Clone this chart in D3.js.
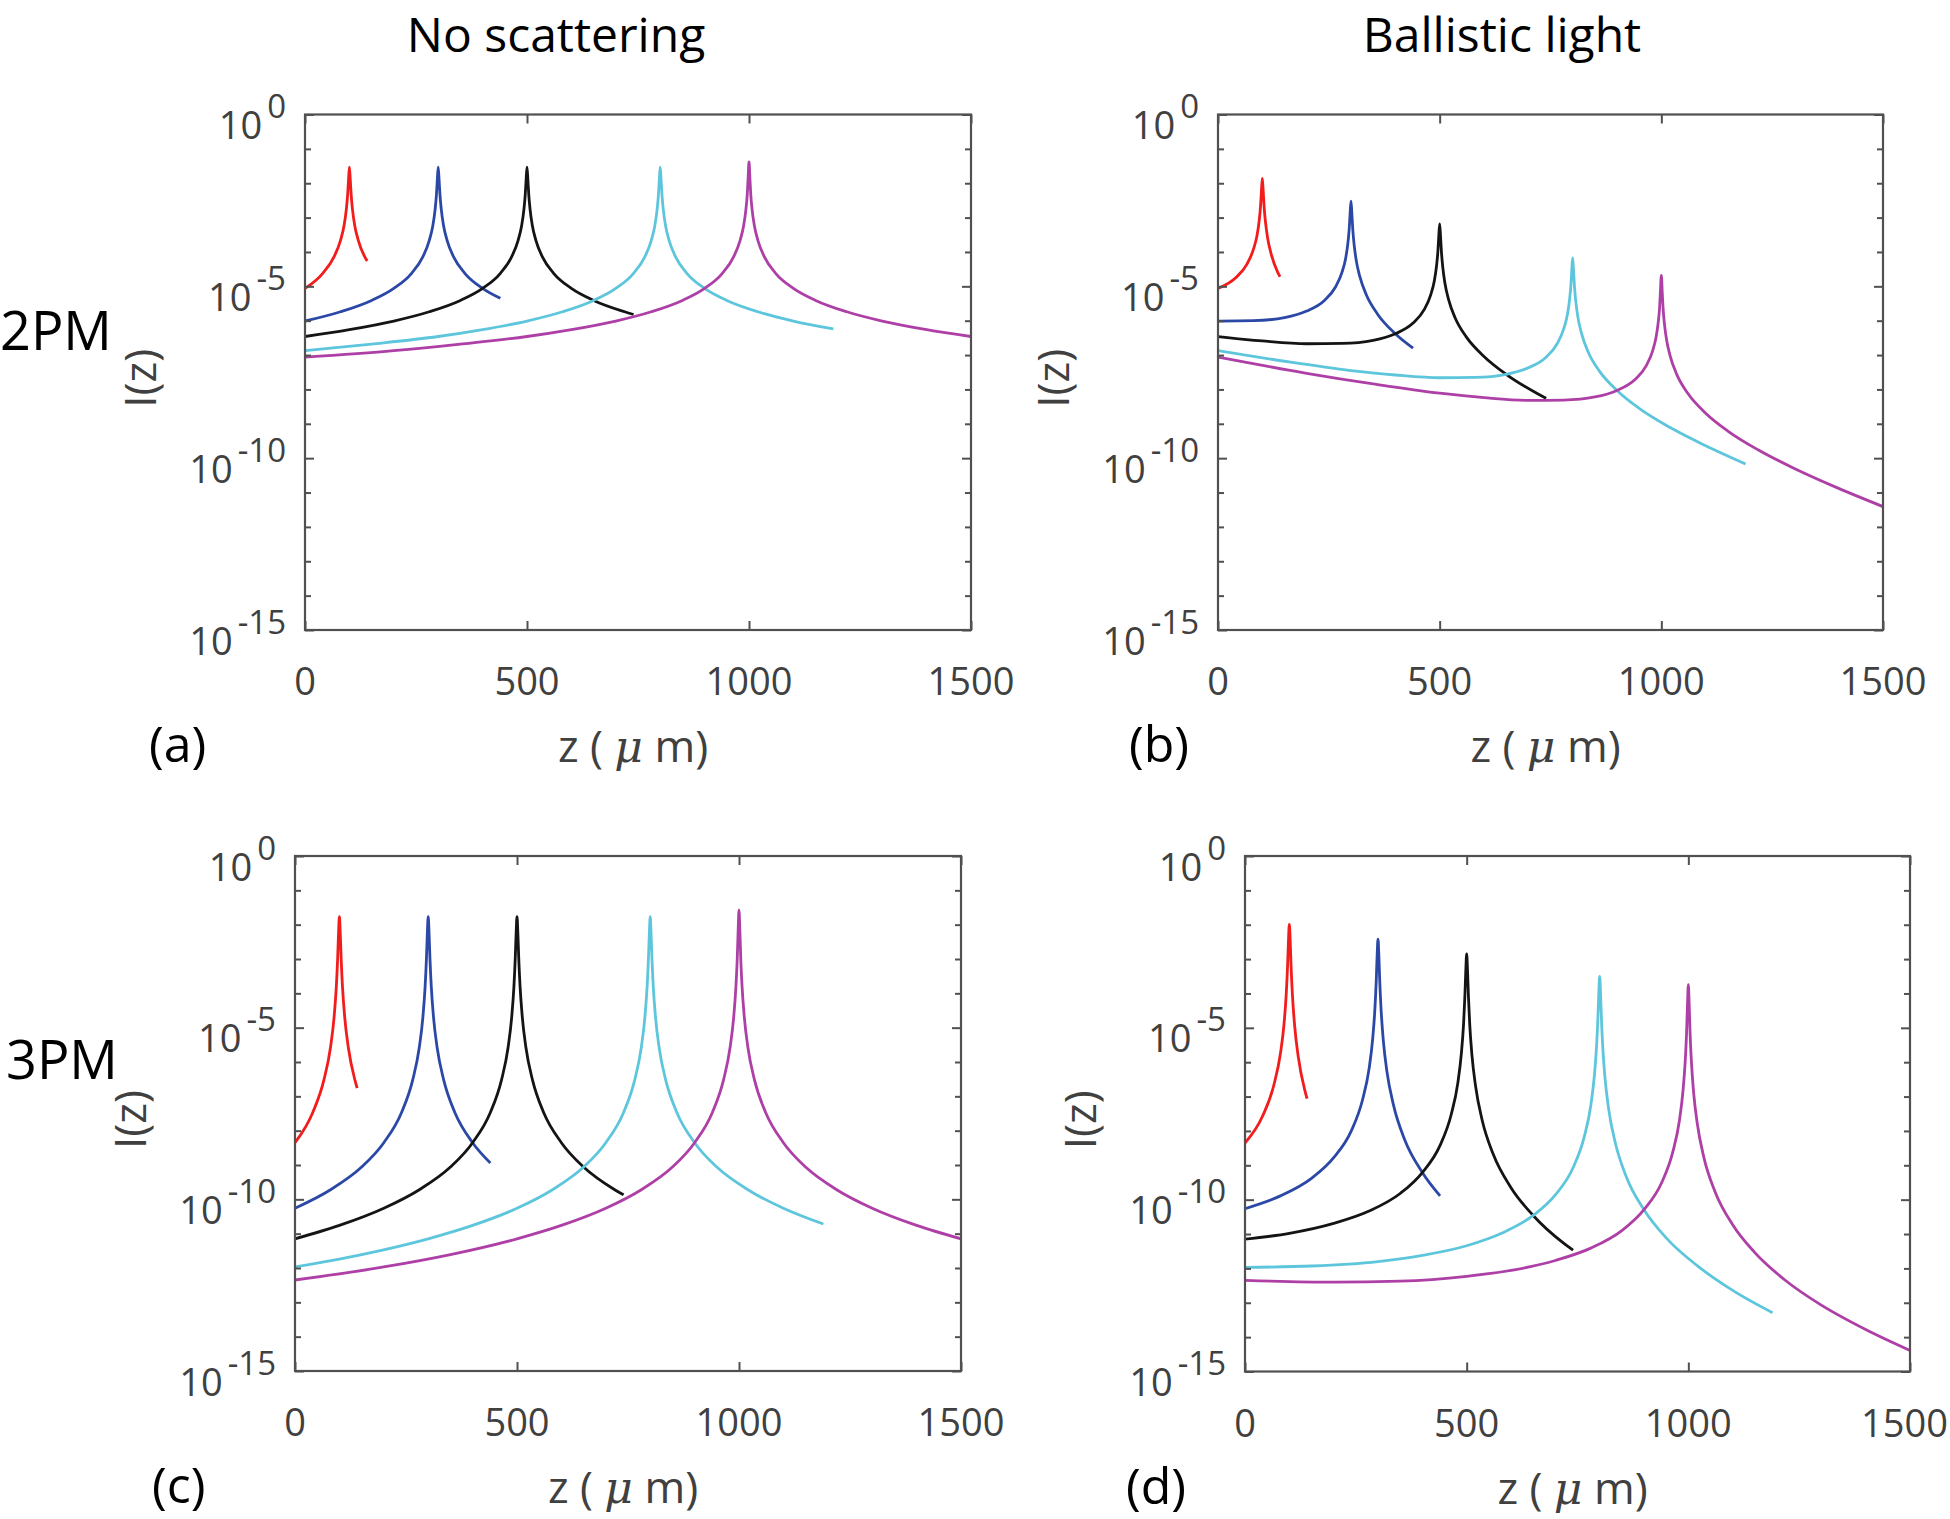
<!DOCTYPE html>
<html><head><meta charset="utf-8">
<script src="https://cdn.jsdelivr.net/npm/d3@7"></script>
<style>
html,body{margin:0;padding:0;background:#fff;}
svg{display:block;font-family:"Open Sans",sans-serif;}
</style></head><body>
<svg id="fig" width="1950" height="1519"></svg>
<script>
// ---------------- DATA (values are log10 I(z)) ----------------
// depth samples (µm) for each focal depth curve: focus at 100, 300, 500, 800, 1000 µm
const zRed     = [0, 40, 65, 80, 88, 93, 96, 98, 100, 102, 104, 107, 112, 120, 135, 140];
const zBlue    = [0, 80, 150, 200, 240, 265, 280, 288, 293, 296, 298, 300, 302, 304, 307, 312, 320, 335, 360, 400, 440];
const zBlack   = [0, 100, 200, 280, 350, 400, 440, 465, 480, 488, 493, 496, 498, 500, 502, 504, 507, 512, 520, 535, 560, 600, 650, 720, 740];
const zCyan    = [0, 150, 300, 400, 500, 580, 650, 700, 740, 765, 780, 788, 793, 796, 798, 800, 802, 804, 807, 812, 820, 835, 860, 900, 950, 1020, 1100, 1190];
const zMagenta = [0, 200, 350, 500, 600, 700, 780, 850, 900, 940, 965, 980, 988, 993, 996, 998, 1000, 1002, 1004, 1007, 1012, 1020, 1035, 1060, 1100, 1150, 1220, 1300, 1400, 1500];

// (a) 2PM, no scattering
const a_red     = [-5.06, -4.62, -4.15, -3.66, -3.23, -2.77, -2.34, -1.90, -1.53, -1.90, -2.34, -2.77, -3.23, -3.66, -4.15, -4.26];
const a_blue    = [-6.01, -5.74, -5.41, -5.06, -4.62, -4.15, -3.66, -3.23, -2.77, -2.34, -1.90, -1.53, -1.90, -2.34, -2.77, -3.23, -3.66, -4.15, -4.62, -5.06, -5.35];
const a_black   = [-6.46, -6.26, -6.01, -5.74, -5.41, -5.06, -4.62, -4.15, -3.66, -3.23, -2.77, -2.34, -1.90, -1.53, -1.90, -2.34, -2.77, -3.23, -3.66, -4.15, -4.62, -5.06, -5.41, -5.74, -5.82];
const a_cyan    = [-6.87, -6.68, -6.46, -6.26, -6.01, -5.74, -5.41, -5.06, -4.62, -4.15, -3.66, -3.23, -2.77, -2.34, -1.90, -1.53, -1.90, -2.34, -2.77, -3.23, -3.66, -4.15, -4.62, -5.06, -5.41, -5.74, -6.01, -6.24];
const a_magenta = [-7.06, -6.87, -6.68, -6.46, -6.26, -6.01, -5.74, -5.41, -5.06, -4.62, -4.15, -3.66, -3.23, -2.77, -2.34, -1.85, -1.38, -1.85, -2.34, -2.77, -3.23, -3.66, -4.15, -4.62, -5.06, -5.41, -5.74, -6.01, -6.26, -6.46];

// (b) 2PM, ballistic light
const b_red     = [-5.06, -4.75, -4.36, -3.92, -3.52, -3.08, -2.66, -2.22, -1.86, -2.24, -2.68, -3.12, -3.60, -4.06, -4.60, -4.72];
const b_blue    = [-6.01, -6.00, -5.91, -5.72, -5.41, -5.02, -4.58, -4.18, -3.74, -3.32, -2.88, -2.52, -2.90, -3.34, -3.78, -4.26, -4.72, -5.26, -5.81, -6.38, -6.80];
const b_black   = [-6.46, -6.59, -6.67, -6.66, -6.57, -6.38, -6.07, -5.68, -5.24, -4.84, -4.40, -3.98, -3.54, -3.18, -3.56, -4.00, -4.44, -4.92, -5.38, -5.92, -6.47, -7.04, -7.56, -8.12, -8.26];
const b_cyan    = [-6.87, -7.18, -7.45, -7.58, -7.66, -7.65, -7.56, -7.37, -7.06, -6.67, -6.23, -5.83, -5.39, -4.97, -4.53, -4.17, -4.55, -4.99, -5.43, -5.91, -6.37, -6.91, -7.46, -8.03, -8.55, -9.11, -9.64, -10.17];
const b_magenta = [-7.06, -7.53, -7.84, -8.11, -8.24, -8.32, -8.31, -8.22, -8.03, -7.72, -7.33, -6.89, -6.49, -6.05, -5.63, -5.14, -4.68, -5.16, -5.65, -6.09, -6.57, -7.03, -7.57, -8.12, -8.69, -9.21, -9.77, -10.30, -10.88, -11.41];

// (c) 3PM, no scattering
const c_red     = [-8.35, -7.47, -6.53, -5.57, -4.70, -3.82, -3.00, -2.27, -1.77, -2.27, -3.00, -3.82, -4.70, -5.57, -6.53, -6.76];
const c_blue    = [-10.26, -9.72, -9.06, -8.35, -7.47, -6.53, -5.57, -4.70, -3.82, -3.00, -2.27, -1.77, -2.27, -3.00, -3.82, -4.70, -5.57, -6.53, -7.47, -8.35, -8.94];
const c_black   = [-11.15, -10.76, -10.26, -9.72, -9.06, -8.35, -7.47, -6.53, -5.57, -4.70, -3.82, -3.00, -2.27, -1.77, -2.27, -3.00, -3.82, -4.70, -5.57, -6.53, -7.47, -8.35, -9.06, -9.72, -9.87];
const c_cyan    = [-11.97, -11.61, -11.15, -10.76, -10.26, -9.72, -9.06, -8.35, -7.47, -6.53, -5.57, -4.70, -3.82, -3.00, -2.27, -1.77, -2.27, -3.00, -3.82, -4.70, -5.57, -6.53, -7.47, -8.35, -9.06, -9.72, -10.26, -10.72];
const c_magenta = [-12.35, -11.97, -11.61, -11.15, -10.76, -10.26, -9.72, -9.06, -8.35, -7.47, -6.53, -5.57, -4.70, -3.82, -3.00, -2.20, -1.58, -2.20, -3.00, -3.82, -4.70, -5.57, -6.53, -7.47, -8.35, -9.06, -9.72, -10.26, -10.76, -11.15];

// (d) 3PM, ballistic light
const d_red     = [-8.35, -7.56, -6.67, -5.74, -4.89, -4.02, -3.21, -2.48, -1.99, -2.49, -3.23, -4.05, -4.94, -5.83, -6.82, -7.06];
const d_blue    = [-10.26, -9.89, -9.38, -8.78, -7.99, -7.10, -6.18, -5.32, -4.45, -3.64, -2.91, -2.42, -2.92, -3.66, -4.48, -5.37, -6.26, -7.25, -8.25, -9.21, -9.89];
const d_black   = [-11.15, -10.98, -10.69, -10.33, -9.82, -9.21, -8.42, -7.53, -6.61, -5.75, -4.89, -4.07, -3.35, -2.85, -3.35, -4.09, -4.92, -5.81, -6.69, -7.69, -8.68, -9.65, -10.46, -11.28, -11.47];
const d_cyan    = [-11.97, -11.93, -11.80, -11.62, -11.34, -10.97, -10.46, -9.86, -9.07, -8.18, -7.26, -6.40, -5.53, -4.72, -3.99, -3.50, -4.00, -4.74, -5.56, -6.45, -7.34, -8.33, -9.33, -10.29, -11.11, -11.92, -12.64, -13.29];
const d_magenta = [-12.35, -12.40, -12.37, -12.23, -12.06, -11.77, -11.41, -10.90, -10.29, -9.50, -8.61, -7.69, -6.83, -5.97, -5.15, -4.36, -3.74, -4.36, -5.17, -6.00, -6.89, -7.77, -8.77, -9.76, -10.73, -11.54, -12.36, -13.07, -13.78, -14.39];

const seriesZ = [zRed, zBlue, zBlack, zCyan, zMagenta];
const seriesColors = ["#f21c1c", "#2b48a6", "#141414", "#5ec6dc", "#ae3fa6"];
const yTickExponents = [0, -5, -10, -15];
const yDecades = [0,-1,-2,-3,-4,-5,-6,-7,-8,-9,-10,-11,-12,-13,-14,-15];
const xTickValues = [0, 500, 1000, 1500];
const columnTitles = ["No scattering", "Ballistic light"];
const rowLabels = ["2PM", "3PM"];

// ---------------- LAYOUT ----------------
const panels = [
  {label:"(a)", box:[305, 114.5, 971, 630],   series:[a_red,a_blue,a_black,a_cyan,a_magenta]},
  {label:"(b)", box:[1218, 114.5, 1883, 630], series:[b_red,b_blue,b_black,b_cyan,b_magenta]},
  {label:"(c)", box:[295, 856, 961, 1371],    series:[c_red,c_blue,c_black,c_cyan,c_magenta]},
  {label:"(d)", box:[1245, 856, 1910, 1371.5],series:[d_red,d_blue,d_black,d_cyan,d_magenta]}
];
const labelX = [149, 1129, 152, 1126];

const svg = d3.select("#fig");
const gray = "#404040";
const axisCol = "#505050";
const W = 1950;

panels.forEach((p, pi) => {
  const [x0, y0, x1, y1] = p.box;
  const x = d3.scaleLinear().domain([0, 1500]).range([x0, x1]);
  const y = d3.scaleLog().domain([1e-15, 1]).range([y1, y0]);
  const g = svg.append("g");

  const clipId = "clip" + pi;
  svg.append("clipPath").attr("id", clipId).append("rect")
    .attr("x", x0).attr("y", y0).attr("width", x1 - x0).attr("height", y1 - y0);

  // curves
  const line = d3.line()
    .x(d => x(d[0]))
    .y(d => y(Math.pow(10, d[1])))
    .curve(d3.curveMonotoneX);
  p.series.forEach((vals, si) => {
    const pts = seriesZ[si].map((z, i) => [z, vals[i]]);
    g.append("path").datum(pts)
      .attr("clip-path", `url(#${clipId})`)
      .attr("d", line)
      .attr("fill", "none")
      .attr("stroke", seriesColors[si])
      .attr("stroke-width", 2.8)
      .attr("stroke-linejoin", "round");
  });

  // ticks (inward) via d3 axes
  const decVals = yDecades.map(e => Math.pow(10, e));
  const mkY = (axisFn, tx) => {
    const ax = g.append("g").attr("transform", `translate(${tx},0)`)
      .call(axisFn(y).tickValues(decVals).tickSizeInner(-6).tickSizeOuter(0).tickFormat(""));
    ax.select(".domain").remove();
    ax.selectAll(".tick line").attr("stroke", axisCol).attr("stroke-width", 2)
      .filter(d => Math.round(Math.log10(d)) % 5 === 0)
      .attr("x2", axisFn === d3.axisLeft ? 9 : -9);
  };
  mkY(d3.axisLeft, x0);
  mkY(d3.axisRight, x1);
  const mkX = (axisFn, ty) => {
    const ax = g.append("g").attr("transform", `translate(0,${ty})`)
      .call(axisFn(x).tickValues(xTickValues).tickSizeInner(-9).tickSizeOuter(0).tickFormat(""));
    ax.select(".domain").remove();
    ax.selectAll(".tick line").attr("stroke", axisCol).attr("stroke-width", 2);
  };
  mkX(d3.axisBottom, y1);
  mkX(d3.axisTop, y0);

  // box
  g.append("rect").attr("x", x0).attr("y", y0).attr("width", x1 - x0).attr("height", y1 - y0)
    .attr("fill", "none").attr("stroke", axisCol).attr("stroke-width", 2.2);

  // y tick labels 10^n
  yTickExponents.forEach(e => {
    const ty = y(Math.pow(10, e));
    const t = g.append("text").attr("x", x0 - 19).attr("y", ty + 24.5)
      .attr("text-anchor", "end").attr("fill", gray).style("font-size", "38px");
    t.append("tspan").text("10");
    t.append("tspan").attr("dx", 5).attr("dy", -21).style("font-size", "33px").text(String(e));
  });
  // x tick labels
  xTickValues.forEach(v => {
    const t = g.append("text").attr("x", x(v)).attr("y", y1 + 65)
      .attr("text-anchor", "middle").attr("fill", gray).style("font-size", "38px").text(v);
    const bb = t.node().getBBox();
    if (bb.x + bb.width > W - 2) t.attr("x", x(v) - (bb.x + bb.width - (W - 2)));
  });
  // x label
  const xl = g.append("text").attr("x", (x0 + x1) / 2 - 5).attr("y", y1 + 132)
    .attr("text-anchor", "middle").attr("fill", gray).style("font-size", "44px")
    .attr("xml:space", "preserve");
  xl.append("tspan").text("z ( ");
  xl.append("tspan").style("font-style", "italic").style("font-family", "'DejaVu Serif', serif").text("μ");
  xl.append("tspan").text(" m)");
  // y label
  const ycx = x0 - 149, ycy = (y0 + y1) / 2 + 6;
  g.append("text").attr("transform", `translate(${ycx},${ycy}) rotate(-90)`)
    .attr("text-anchor", "middle").attr("fill", gray).style("font-size", "44px").text("I(z)");
  // panel letter
  g.append("text").attr("x", labelX[pi]).attr("y", y1 + 132)
    .attr("fill", "#000").style("font-size", "50px").text(p.label);
});

// column titles and row labels
svg.append("text").attr("x", 556).attr("y", 52).attr("text-anchor", "middle")
  .style("font-size", "48px").attr("fill", "#000").text(columnTitles[0]);
svg.append("text").attr("x", 1502).attr("y", 52).attr("text-anchor", "middle")
  .style("font-size", "48px").attr("fill", "#000").text(columnTitles[1]);
svg.append("text").attr("x", 0).attr("y", 350)
  .style("font-size", "54px").attr("fill", "#000").text(rowLabels[0]);
svg.append("text").attr("x", 6).attr("y", 1079)
  .style("font-size", "54px").attr("fill", "#000").text(rowLabels[1]);
</script>
</body></html>
